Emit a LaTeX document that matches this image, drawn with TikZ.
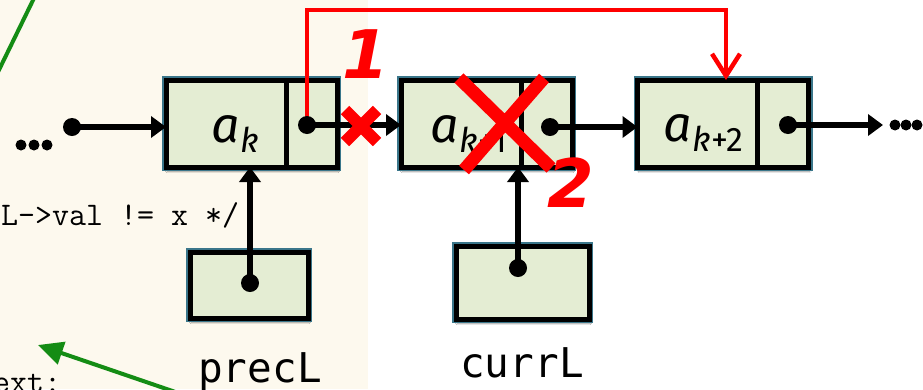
\documentclass[tikz,border=0pt]{standalone}
\usepackage{fontspec}
\usetikzlibrary{arrows.meta,shadows.blur}
\newfontfamily\labelfont{Fira Sans}
\newfontfamily\varfont{DejaVu Sans Mono}
\newfontfamily\markfont{DejaVu Sans}
\definecolor{cream}{RGB}{253,249,238}
\definecolor{cellfill}{RGB}{228,237,211}
\definecolor{celledge}{RGB}{58,118,138}
\definecolor{codegreen}{RGB}{20,140,20}
\definecolor{mark}{RGB}{255,0,0}

\tikzset{
  cellbox/.style={rectangle, inner sep=0pt, outer sep=0pt,
    blur shadow={shadow xshift=1pt, shadow yshift=-4pt, shadow blur steps=8, shadow opacity=40},
    preaction={draw=celledge, line width=8pt},
    draw=black, line width=5pt, fill=cellfill},
  listcell/.style={cellbox, minimum width=171pt, minimum height=87pt},
  ptrdot/.style={circle, fill=black, inner sep=0pt, minimum size=18pt},
  smalldot/.style={circle, fill=black, inner sep=0pt, minimum size=11pt},
  link/.style={line width=6pt, -{Triangle[length=15pt,width=21pt]}},
  divider/.style={line width=5pt},
  redlink/.style={draw=mark, line width=4.5pt, -{Straight Barb[length=22pt,width=28pt]}},
  crossbar/.style={draw=mark, line cap=butt},
  greenline/.style={draw=codegreen, line width=4pt},
  cellname/.style={font=\labelfont\itshape\fontsize{50}{50}\selectfont, inner sep=0pt, anchor=base west},
  varname/.style={font=\varfont\fontsize{41}{41}\selectfont, inner sep=0pt, anchor=base},
  codetext/.style={font=\ttfamily\fontsize{33}{33}\selectfont, inner sep=0pt, anchor=base west},
  stepnum/.style={font=\markfont\bfseries\itshape\fontsize{67}{67}\selectfont, text=mark, inner sep=0pt, anchor=base},
}
\newcommand{\sub}[1]{\raisebox{-10pt}{\fontsize{34}{34}\selectfont #1}}

\begin{document}
\begin{tikzpicture}[x=1pt,y=-1pt]
  \useasboundingbox (0,0) rectangle (923,389);
  \clip (0,0) rectangle (923,389);

  % page backgrounds: code listing on the left, slide on the right
  \fill[white] (0,0) rectangle (923,389);
  \fill[cream] (0,0) rectangle (368,389);

  % fragments of the code listing
  \draw[greenline] (-3,74) -- (37,-8);
  \node[codetext] (code1) at (1,225) {L->val != x */};
  \node[codetext] (code2) at (-7,392) {ext:};
  \coordinate (gtail) at (190,397);
  \coordinate (ghead) at (38,345);
  \draw[greenline, -{Triangle[length=25pt,width=23pt]}] (gtail) -- (ghead);

  % list cells
  \node[listcell] (ak)  at (251.5,123.5) {};
  \node[listcell] (ak1) at (486.5,123.5) {};
  \node[listcell] (ak2) at (723,123.5) {};
  \foreach \c/\dx in {ak/34.5, ak1/34.5, ak2/34} {
    \draw[divider] ([xshift=\dx pt]\c.north) -- ([xshift=\dx pt]\c.south);
  }

  % cell contents
  \node[cellname] (akl)  at (211,142) {a\kern1pt\sub{k}};
  \node[cellname] (ak1l) at (430,142) {a\kern1pt\sub{k{\upshape+1}}};
  \node[cellname] (ak2l) at (663,141) {a\kern1pt\sub{k{\upshape+2}}};

  % pointer variables
  \node[cellbox, minimum width=118pt, minimum height=66pt] (prec) at (249,285) {};
  \node[cellbox, minimum width=133pt, minimum height=73pt] (curr) at (522.5,282.5) {};
  \node[varname] (precname) at (260,382) {precL};
  \node[varname] (currname) at (522,377) {currL};

  % the new link, drawn under the pointer dots
  \coordinate (bend) at (726,10);
  \draw[redlink] (307,125) -- (307,10) -- (bend) -- (bend |- ak2.north);

  % pointer dots
  \node[ptrdot] (startdot) at (72,127) {};
  \node[ptrdot] (akdot)  at (307,125) {};
  \node[ptrdot] (ak1dot) at (550,127) {};
  \node[ptrdot] (ak2dot) at (788,125) {};
  \node[ptrdot] (precdot) at (250,283) {};
  \node[ptrdot] (currdot) at (518,268) {};

  % links
  \draw[link] (startdot.center) -- (ak.west |- startdot);
  \draw[link] (akdot.center) -- (ak1.west |- akdot);
  \draw[link] (ak1dot.center) -- (ak2.west |- ak1dot);
  \coordinate (tail) at (883,125);
  \draw[link] (ak2dot.center) -- (tail);
  \draw[link] (precdot.center) -- (precdot |- ak.south);
  \draw[link] (currdot.center) -- (currdot |- ak1.south);

  % ellipses
  \foreach \x in {21,34,47} \node[smalldot] at (\x,145) {};
  \foreach \x in {895,906,917} \node[smalldot] at (\x,125) {};

  % cut link and removed cell
  \draw[crossbar, line width=12pt] (345,110) -- (377,142) (377,110) -- (345,142);
  \draw[crossbar, line width=13pt] (459,78) -- (551,168) (544,78) -- (464,170);

  % step numbers
  \node[stepnum] (one) at (366,78) {1};
  \node[stepnum] (two) at (571,207) {2};
\end{tikzpicture}
\end{document}
